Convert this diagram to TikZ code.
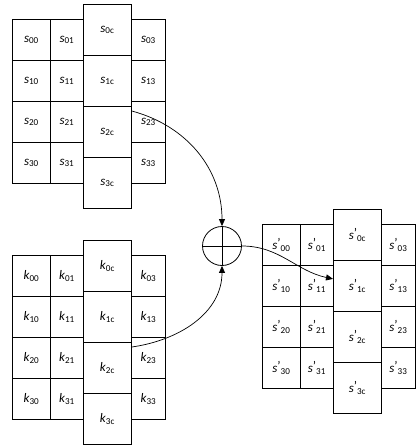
\documentclass[tikz,border=0pt]{standalone}
\usepackage{fontspec}
\setmainfont{Carlito}
\usetikzlibrary{arrows.meta}

% 格子里的文字
\newcommand{\es}[1]{\textit{s}\textsubscript{#1}}
\newcommand{\ek}[1]{\textit{k}\textsubscript{#1}}
\newcommand{\esp}[1]{\textit{s}\raisebox{.3ex}{'}\textsubscript{#1}}

\tikzset{
  cell/.style={draw, line width=0.8pt, inner sep=0pt, anchor=north west,
    minimum height=41pt, font=\fontsize{13}{15}\selectfont},
  cellc/.style={cell, minimum width=48pt, minimum height=51pt},
  tip/.style={-{Triangle[length=7pt,width=6pt]}, line width=0.7pt}
}

% 一个 4x4 方块, 第 c 列错开
\newcommand{\blk}[3]{%
  \begin{scope}[shift={#3}]
    \foreach \j/\xx/\w in {0/0/38, 1/38/33, 3/119/34}
      \foreach \i in {0,...,3}
        \node[cell, minimum width=\w pt] (#1\i\j) at (\xx,41*\i) {#2{\i\j}};
    \foreach \i in {0,...,3}
      \node[cellc] (#1\i c) at (71,-15+51*\i) {#2{\i c}};
  \end{scope}}

\begin{document}
\begin{tikzpicture}[x=1pt, y=-1pt]
    \useasboundingbox (0,0) rectangle (419,447);

    % 状态
    \blk{S}{\es}{(12,19)}

    % 密钥
    \blk{K}{\ek}{(12,255)}

    % 结果
    \blk{R}{\esp}{(262,224)}

    % 异或
    \node[circle, draw, line width=0.8pt, minimum size=39pt, inner sep=0pt] (xor) at (222,246) {};
    \draw[line width=0.8pt] (xor.north) -- (xor.south);
    \draw[line width=0.8pt] (xor.west) -- (xor.east);

    % 连线
    \draw[tip] ([yshift=-5pt]S2c.north east) to[out=-15, in=90] (xor.north);
    \draw[tip] ([yshift=-5pt]K2c.north east) to[out=8, in=-90] (xor.south);
    \draw[tip] (xor.east) to[out=0, in=168] ([yshift=7pt]R1c.west);
\end{tikzpicture}
\end{document}
